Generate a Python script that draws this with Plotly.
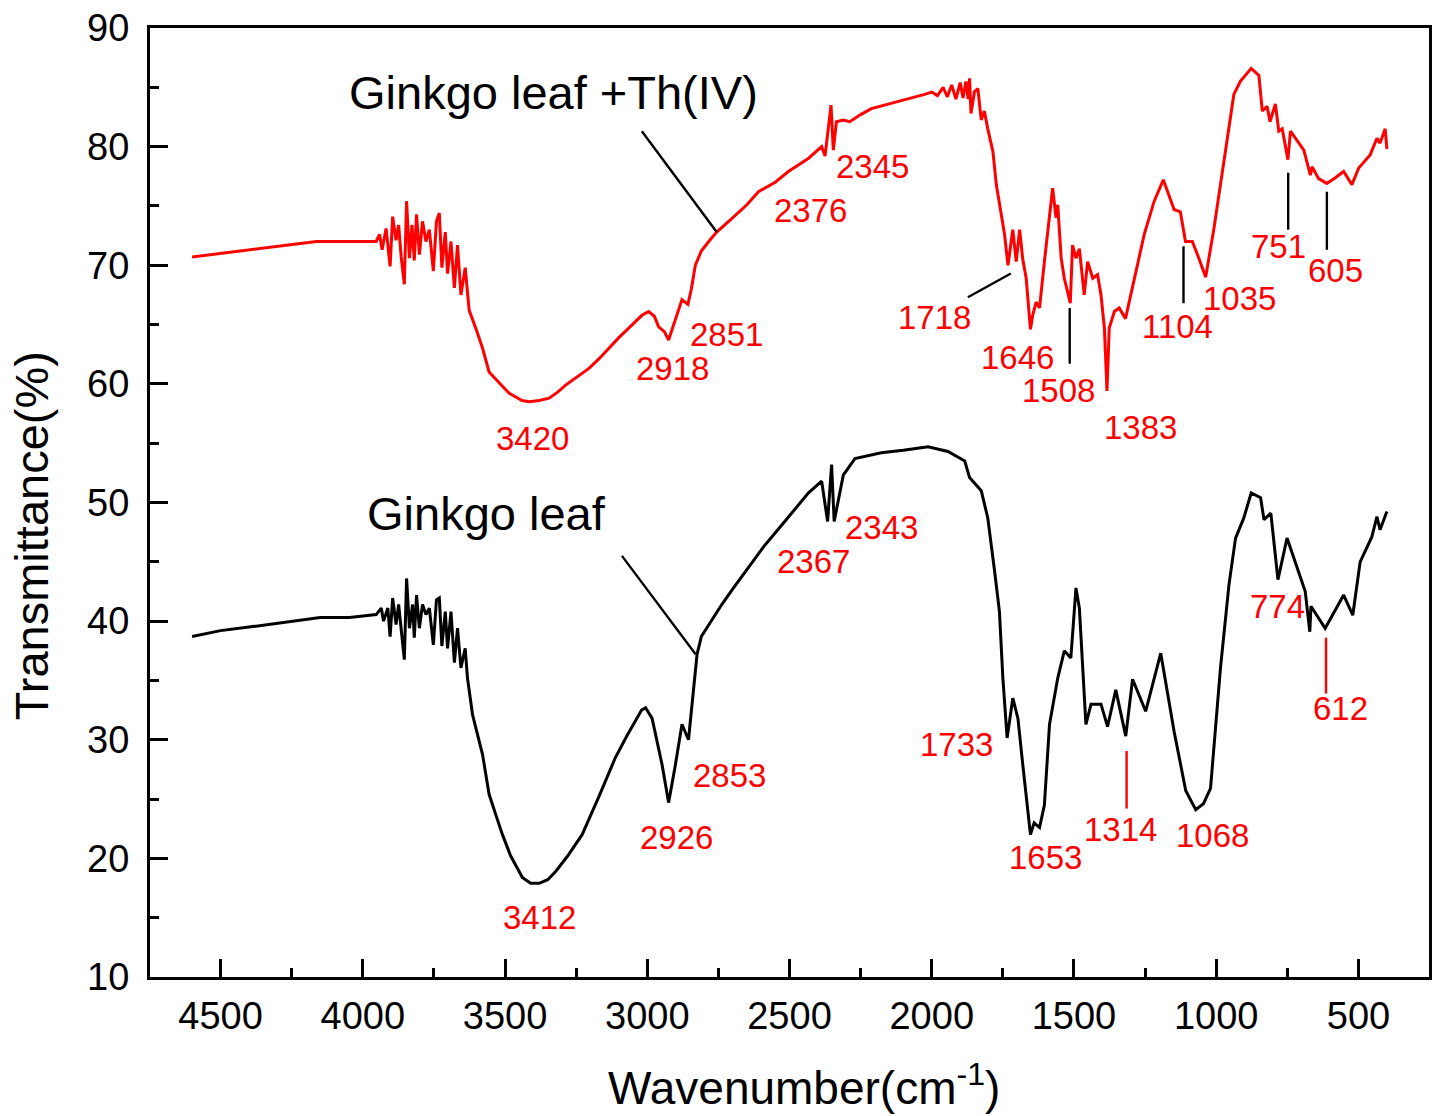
import plotly.graph_objects as go

# ---- data: Ginkgo leaf + Th(IV) (red) ----
th_wn = [4600, 4500, 4400, 4300, 4163, 4011, 3953, 3941, 3932, 3918, 3904, 3895, 3883, 3874, 3865, 3854,
         3846, 3836, 3827, 3819, 3811, 3801, 3790, 3778, 3766, 3752, 3741, 3731, 3722, 3710, 3702, 3690,
         3678, 3667, 3655, 3640, 3626, 3600, 3579, 3556, 3530, 3509, 3485, 3462, 3440, 3415, 3380, 3345,
         3315, 3287, 3245, 3205, 3170, 3135, 3100, 3065, 3040,
         3018, 2995, 2975, 2960, 2940, 2925, 2900, 2878, 2857, 2845, 2831, 2810, 2784, 2756, 2700, 2650,
         2609, 2550, 2504, 2434, 2387,
         2375, 2354, 2346, 2335, 2311, 2288, 2250, 2212, 2150, 2095, 2025, 2000, 1980, 1960, 1945, 1930, 1915, 1900,
         1890, 1880, 1872, 1867, 1862, 1850, 1838, 1826, 1815, 1803, 1785, 1773, 1756, 1744, 1732, 1715,
         1703, 1691, 1680, 1668, 1653, 1645, 1633, 1621, 1604, 1586, 1575, 1563, 1557, 1545, 1534, 1513,
         1505, 1493, 1481, 1464, 1452, 1434, 1417, 1405, 1393, 1384, 1376, 1358, 1341, 1319, 1288, 1253,
         1218, 1186, 1148, 1126, 1108, 1084, 1066, 1037, 1008, 973, 938, 915, 877, 850, 838, 821, 811,
         792, 780, 768, 748, 739, 692, 669, 663, 640, 611, 580, 552, 523, 499, 459, 435, 424, 406, 400]
th_t = [70.7, 71.0, 71.3, 71.6, 72.0, 72.0, 72.0, 72.6, 71.3, 73.1, 69.9, 74.1, 72.1, 73.4, 70.7, 68.4,
        75.4, 70.6, 73.4, 70.4, 74.3, 70.9, 73.7, 72.0, 73.0, 69.5, 73.7, 74.4, 69.8, 72.8, 69.3, 72.0,
        68.1, 71.7, 67.5, 69.8, 66.2, 64.5, 63.0, 61.0, 60.3, 59.8, 59.2, 58.9, 58.6, 58.5, 58.6, 58.8,
        59.3, 59.9, 60.6, 61.3, 62.1, 63.0, 63.9, 64.7, 65.3,
        65.8, 66.1, 65.7, 64.8, 64.4, 63.7, 65.5, 67.1, 66.7, 68.0, 70.0, 71.2, 72.0, 72.8, 74.0, 75.1,
        76.2, 77.0, 77.9, 79.0, 80.0,
        79.2, 83.5, 79.7, 82.1, 82.25, 82.1, 82.7, 83.2, 83.6, 83.9, 84.4, 84.6, 84.3, 85.0, 84.2, 85.2, 84.0, 85.4,
        84.1, 85.5, 84.0, 85.75, 82.8, 84.6, 84.9, 82.25, 83.0, 81.5, 79.6, 76.8, 74.5, 72.6, 70.0, 73.0,
        70.3, 73.0, 70.5, 68.9, 64.6, 65.8, 66.9, 66.4, 70.3, 74.5, 76.5, 74.0, 75.1, 70.6, 68.9, 66.8,
        71.7, 70.6, 71.4, 67.5, 70.3, 68.9, 69.2, 67.5, 64.7, 59.4, 64.7, 66.1, 66.4, 65.5, 68.9, 72.6,
        75.4, 77.2, 74.7, 74.5, 72.0, 72.0, 70.9, 69.0, 73.1, 78.7, 84.4, 85.5, 86.6, 86.0, 83.0, 83.4, 82.1,
        83.6, 81.3, 81.5, 78.9, 81.3, 79.7, 77.6, 78.3, 77.3, 76.9, 77.4, 77.9, 76.8, 78.2, 79.3, 80.7, 80.3, 81.5, 79.8]

# ---- data: Ginkgo leaf (black) ----
gl_wn = [4600, 4500, 4400, 4300, 4150, 4047, 3953, 3935, 3927, 3912, 3904, 3895, 3883, 3874, 3865, 3854,
         3846, 3836, 3825, 3819, 3811, 3801, 3790, 3778, 3766, 3752, 3741, 3731, 3722, 3710, 3702, 3690,
         3678, 3667, 3655, 3640, 3632, 3614, 3579, 3556, 3530, 3509, 3480, 3439, 3410, 3380, 3350, 3322,
         3280, 3229, 3170, 3112, 3070, 3041, 3020, 3006,
         2983, 2948, 2925, 2901, 2878, 2855, 2843, 2825, 2810, 2784, 2738, 2700, 2644, 2590, 2527, 2469,
         2434, 2387, 2366,
         2352, 2343, 2311, 2270, 2177, 2100, 2013, 1943, 1884, 1867, 1826, 1803, 1779, 1762, 1750, 1735, 1715,
         1697, 1680, 1653, 1640, 1621, 1604, 1586, 1557, 1534, 1511, 1493, 1481, 1470, 1458, 1440, 1405,
         1382, 1353, 1318, 1294, 1248, 1195, 1148, 1107, 1072, 1045, 1020, 985, 955, 932, 903, 877, 844, 832,
         808, 783, 751, 716, 687, 671, 667, 617, 552, 520, 494, 453, 435, 424, 400]
gl_t = [38.7, 39.2, 39.5, 39.8, 40.3, 40.3, 40.55, 41.1, 40.0, 41.1, 38.7, 41.95, 39.7, 41.4, 39.4, 36.75,
        43.6, 39.4, 41.4, 38.6, 42.2, 39.4, 41.4, 40.55, 41.1, 38.0, 41.8, 41.95, 37.9, 40.8, 37.7, 40.8,
        36.5, 39.4, 36.05, 37.7, 35.2, 32.1, 28.75, 25.4, 23.5, 22.0, 20.2, 18.4, 17.9, 17.9, 18.2, 18.9,
        20.2, 22.0, 25.2, 28.5, 30.4, 31.55, 32.5, 32.7,
        31.8, 27.9, 24.7, 27.9, 31.3, 30.0, 32.7, 37.2, 38.7, 39.7, 41.4, 42.7, 44.5, 46.3, 48.1, 49.8,
        50.8, 51.8, 48.4,
        53.2, 48.4, 52.3, 53.7, 54.2, 54.4, 54.7, 54.3, 53.5, 52.1, 51.0, 48.7, 44.2, 40.8, 35.2, 30.15, 33.5,
        31.8, 27.9, 22.0, 23.0, 22.6, 24.5, 31.3, 35.2, 37.5, 36.9, 42.8, 41.1, 36.35, 31.3, 33.0, 33.0,
        31.1, 34.2, 30.3, 35.1, 32.4, 37.3, 30.7, 25.7, 24.1, 24.6, 25.9, 36.05, 43.1, 47.0, 48.7, 50.8, 50.4, 48.55,
        49.1, 43.5, 47.0, 44.6, 42.5, 39.1, 41.25, 39.4, 42.2, 40.5, 45.0, 47.1, 48.8, 47.7, 49.25]

# ---- peak labels ----
peak_text = ["3420", "2918", "2851", "2376", "2345", "1718", "1646", "1508", "1383", "1104", "1035", "751", "605",
             "3412", "2926", "2853", "2367", "2343", "1733", "1653", "1314", "1068", "774", "612"]
peak_x = [3405, 2910, 2722, 2427, 2210, 1992, 1700, 1554, 1266, 1136, 918, 782, 582,
          3380, 2896, 2710, 2416, 2178, 1914, 1599, 1336, 1013, 785, 562]
peak_y = [55.4, 61.3, 64.2, 74.6, 78.3, 65.6, 62.2, 59.4, 56.3, 64.8, 67.2, 71.6, 69.6,
          15.0, 21.8, 27.0, 45.0, 47.9, 29.6, 20.1, 22.4, 21.9, 41.2, 32.6]

# ---- series names and leader lines ----
series_names = ["Ginkgo leaf +Th(IV)", "Ginkgo leaf"]
name_x = [3331, 3566]
name_y = [84.6, 49.1]
leader_x0 = [3019, 3089, 1873, 1515, 1115, 747, 611, 1315, 614]
leader_y0 = [81.3, 45.5, 67.3, 66.4, 71.6, 77.8, 76.2, 29.05, 38.6]
leader_x1 = [2756, 2830, 1722, 1515, 1115, 747, 611, 1315, 614]
leader_y1 = [72.8, 37.2, 69.3, 61.7, 66.8, 73.0, 71.3, 24.2, 33.9]
leader_color = ["black", "black", "black", "black", "black", "black", "black", "red", "red"]

FONT = "Arial, 'Liberation Sans', sans-serif"

W, H = 1439, 1116
ML, MR, MT, MB = 150, 7, 26, 139
plot_w = W - ML - MR
plot_h = H - MT - MB


def px_to_paper(px, py):
    return (px - ML) / plot_w, (H - MB - py) / plot_h


fig = go.Figure()
fig.add_trace(go.Scatter(x=th_wn, y=th_t, mode="lines", line=dict(color="#ff0000", width=3),
                         name=series_names[0], showlegend=False))
fig.add_trace(go.Scatter(x=gl_wn, y=gl_t, mode="lines", line=dict(color="black", width=3),
                         name=series_names[1], showlegend=False))

for t, x, y in zip(peak_text, peak_x, peak_y):
    fig.add_annotation(x=x, y=y, text=t, showarrow=False, xref="x", yref="y",
                       font=dict(family=FONT, size=33, color="#ff0000"))

for t, x, y in zip(series_names, name_x, name_y):
    fig.add_annotation(x=x, y=y, text=t, showarrow=False, xref="x", yref="y",
                       font=dict(family=FONT, size=47, color="black"))

for x0, y0, x1, y1, c in zip(leader_x0, leader_y0, leader_x1, leader_y1, leader_color):
    fig.add_shape(type="line", x0=x0, y0=y0, x1=x1, y1=y1, xref="x", yref="y",
                  line=dict(color=c, width=2.4))

# axis titles as positioned text
yx, yy = px_to_paper(32, 535)
fig.add_annotation(x=yx, y=yy, xref="paper", yref="paper", text="Transmittance(%)", showarrow=False,
                   textangle=-90, xanchor="center", yanchor="middle",
                   font=dict(family=FONT, size=47, color="black"))
xx, xy = px_to_paper(806, 1085)
fig.add_annotation(x=xx, y=xy, xref="paper", yref="paper", text="Wavenumber(cm<sup>-1</sup>)",
                   showarrow=False, xanchor="center", yanchor="middle",
                   font=dict(family=FONT, size=46, color="black"))

axis_common = dict(showgrid=False, zeroline=False, showline=True, linecolor="black", linewidth=3,
                   mirror=True, ticks="inside", ticklen=18, tickwidth=3, tickcolor="black",
                   tickfont=dict(family=FONT, size=38, color="black"))

fig.update_xaxes(range=[4748, 252], tickvals=[4500, 4000, 3500, 3000, 2500, 2000, 1500, 1000, 500],
                 minor=dict(ticks="inside", ticklen=9, tickwidth=3, tickcolor="black",
                            tickvals=[4250, 3750, 3250, 2750, 2250, 1750, 1250, 750]),
                 ticklabelstandoff=3,
                 **axis_common)
fig.update_yaxes(range=[10, 90], tickvals=[10, 20, 30, 40, 50, 60, 70, 80, 90],
                 minor=dict(ticks="inside", ticklen=9, tickwidth=3, tickcolor="black",
                            tickvals=[15, 25, 35, 45, 55, 65, 75, 85]),
                 ticklabelstandoff=10,
                 **axis_common)

fig.update_layout(width=W, height=H, margin=dict(l=ML, r=MR, t=MT, b=MB),
                  plot_bgcolor="white", paper_bgcolor="white", showlegend=False)

fig.write_html("out.html")
